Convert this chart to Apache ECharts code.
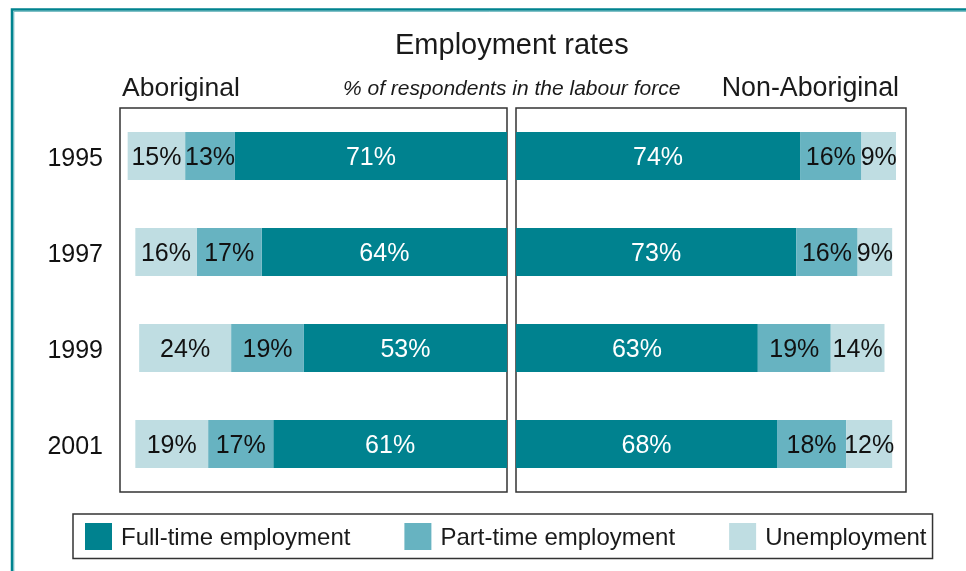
<!DOCTYPE html>
<html>
<head>
<meta charset="utf-8">
<title>Employment rates</title>
<script src="https://cdn.jsdelivr.net/npm/echarts@6/dist/echarts.min.js"></script>
<style>
  html, body { margin: 0; padding: 0; background: #ffffff; }
  #chart { width: 966px; height: 571px; }
</style>
</head>
<body>
<div id="chart"></div>
<script>
// Survey years (rows)
const years = ['1995', '1997', '1999', '2001'];

// Aboriginal respondents, % of labour force
const aboriginalFullTime = [71, 64, 53, 61];
const aboriginalPartTime = [13, 17, 19, 17];
const aboriginalUnemployed = [15, 16, 24, 19];

// Non-Aboriginal respondents, % of labour force
const nonAboriginalFullTime = [74, 73, 63, 68];
const nonAboriginalPartTime = [16, 16, 19, 18];
const nonAboriginalUnemployed = [9, 9, 14, 12];

const seriesNames = ['Full-time employment', 'Part-time employment', 'Unemployment'];
const colors = ['#00828f', '#67b3c1', '#bfdde2'];
const FONT = '"Liberation Sans", Arial, Helvetica, sans-serif';

function makeSeries(name, data, gridIdx, color, labelColor) {
  return {
    name: name,
    type: 'bar',
    stack: 'panel' + gridIdx,
    xAxisIndex: gridIdx,
    yAxisIndex: gridIdx,
    data: data,
    barWidth: 48,
    itemStyle: { color: color },
    label: {
      show: true,
      position: 'inside',
      formatter: '{c}%',
      color: labelColor,
      fontFamily: FONT,
      fontSize: 25,
      offset: [0, 2]
    },
    emphasis: { disabled: true },
    animation: false
  };
}

const chart = echarts.init(document.getElementById('chart'), null, { renderer: 'canvas' });

chart.setOption({
  backgroundColor: '#ffffff',
  animation: false,
  color: colors,
  title: [
    { text: 'Employment rates', left: 395, top: 31, padding: 0,
      textStyle: { fontFamily: FONT, fontSize: 29, fontWeight: 'normal', color: '#1a1a1a' } },
    { text: 'Aboriginal', left: 122, top: 75, padding: 0,
      textStyle: { fontFamily: FONT, fontSize: 26.5, fontWeight: 'normal', color: '#1a1a1a' } },
    { text: '% of respondents in the labour force', left: 343, top: 79, padding: 0,
      textStyle: { fontFamily: FONT, fontSize: 21, fontStyle: 'italic', fontWeight: 'normal', color: '#1a1a1a' } },
    { text: 'Non-Aboriginal', right: 67, top: 75, padding: 0,
      textStyle: { fontFamily: FONT, fontSize: 26.8, fontWeight: 'normal', color: '#1a1a1a' } }
  ],
  legend: {
    data: seriesNames,
    left: 73,
    top: 514,
    orient: 'horizontal',
    icon: 'rect',
    itemWidth: 27,
    itemHeight: 27,
    itemGap: 54,
    padding: [9, 6, 8, 12],
    borderColor: '#333333',
    borderWidth: 1.5,
    selectedMode: false,
    formatter: name => '{t|' + name + '}',
    textStyle: {
      fontFamily: FONT, fontSize: 24, color: '#1a1a1a',
      rich: { t: { fontFamily: FONT, fontSize: 24, color: '#1a1a1a', padding: [4, 0, 0, 4] } }
    }
  },
  grid: [
    { left: 120, top: 108, width: 387, height: 384, show: true,
      borderColor: '#333333', borderWidth: 1.5, backgroundColor: 'transparent' },
    { left: 516, top: 108, width: 390, height: 384, show: true,
      borderColor: '#333333', borderWidth: 1.5, backgroundColor: 'transparent' }
  ],
  xAxis: [
    { gridIndex: 0, type: 'value', min: 0, max: 101, inverse: true, show: false },
    { gridIndex: 1, type: 'value', min: 0, max: 101.6, show: false }
  ],
  yAxis: [
    { gridIndex: 0, type: 'category', data: years, inverse: true,
      axisLine: { show: false }, axisTick: { show: false }, splitLine: { show: false },
      axisLabel: {
        margin: 17,
        formatter: v => '{y|' + v + '}',
        rich: { y: { fontFamily: FONT, fontSize: 25, color: '#111111', padding: [6, 0, 0, 0] } }
      } },
    { gridIndex: 1, type: 'category', data: years, inverse: true,
      axisLine: { show: false }, axisTick: { show: false }, splitLine: { show: false },
      axisLabel: { show: false } }
  ],
  series: [
    makeSeries(seriesNames[0], aboriginalFullTime, 0, colors[0], '#ffffff'),
    makeSeries(seriesNames[1], aboriginalPartTime, 0, colors[1], '#111111'),
    makeSeries(seriesNames[2], aboriginalUnemployed, 0, colors[2], '#111111'),
    makeSeries(seriesNames[0], nonAboriginalFullTime, 1, colors[0], '#ffffff'),
    makeSeries(seriesNames[1], nonAboriginalPartTime, 1, colors[1], '#111111'),
    makeSeries(seriesNames[2], nonAboriginalUnemployed, 1, colors[2], '#111111')
  ],
  graphic: [
    // teal frame along the top and left edges
    { type: 'polyline', silent: true,
      shape: { points: [[12, 571], [12, 9.5], [966, 9.5]] },
      style: { stroke: '#00838f', lineWidth: 2.5, fill: null } },
    { type: 'polyline', silent: true,
      shape: { points: [[13.8, 571], [13.8, 11.3], [966, 11.3]] },
      style: { stroke: '#5fb0b8', lineWidth: 1, fill: null } }
  ]
});
</script>
</body>
</html>
